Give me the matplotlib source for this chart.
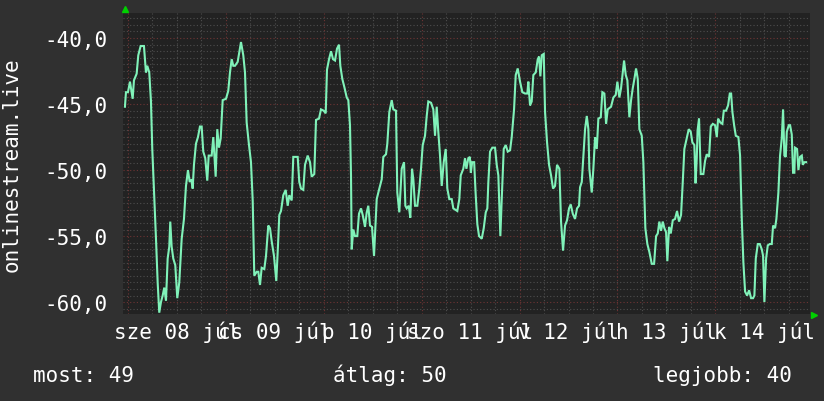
#!/usr/bin/env python3
"""
Weekly signal graph for onlinestream.live, rrdtool look.
"""

import matplotlib
matplotlib.use('Agg')
import matplotlib.pyplot as plt
import matplotlib.transforms as mtransforms
import numpy as np

plt.rcParams.update({
    'font.family': ['DejaVu Sans Mono'],
    'font.size': 15,
})

# Data: hours since 2020-07-08 00:00 and signal value
hours = [
    -0.74, -0.49, 0.00, 0.49, 1.15, 1.47, 2.13, 2.53, 3.11, 3.92, 4.41, 4.73, 5.22, 5.64,
    5.96, 6.37, 6.87, 7.28, 7.67, 8.09, 8.51, 8.90, 9.32, 9.73, 10.13, 10.37, 10.71, 11.11,
    11.60, 12.09, 12.58, 13.17, 13.73, 14.22, 14.71, 15.13, 15.62, 15.86, 16.18, 16.67, 17.16,
    17.65, 18.07, 18.46, 18.95, 19.44, 19.79, 20.52, 20.92, 21.50, 21.90, 22.31, 22.73, 23.22,
    24.03, 24.59, 25.01, 25.43, 25.82, 26.24, 26.90, 27.71, 28.27, 28.69, 29.10, 29.67, 30.16,
    30.58, 30.97, 31.56, 31.95, 32.37, 32.78, 33.42, 33.84, 34.40, 34.82, 35.24, 35.80, 36.36,
    36.78, 37.10, 37.52, 38.08, 38.67, 39.16, 39.55, 40.14, 40.53, 41.61, 42.00, 42.42, 42.98,
    43.40, 44.06, 44.63, 45.04, 45.68, 46.10, 46.83, 47.32, 47.98, 48.48, 48.79, 49.29, 49.78,
    50.27, 50.76, 51.25, 51.74, 52.06, 52.55, 53.04, 53.63, 54.02, 54.43, 54.68, 54.85, 55.24,
    55.66, 56.22, 56.64, 57.13, 57.55, 58.11, 58.53, 58.92, 59.34, 59.83, 60.32, 60.64, 60.98,
    61.62, 62.21, 62.60, 63.26, 63.58, 64.07, 64.66, 65.05, 65.71, 66.03, 66.52, 67.11, 67.68,
    68.00, 68.34, 68.83, 69.22, 69.64, 69.96, 70.37, 70.94, 71.43, 71.84, 72.26, 72.82, 73.24,
    73.63, 74.30, 74.86, 75.28, 75.69, 76.08, 76.50, 76.92, 77.41, 77.90, 78.29, 78.78, 79.37,
    79.76, 80.74, 81.23, 81.58, 82.21, 82.63, 82.97, 83.44, 83.82, 84.06, 84.38, 84.87, 85.22,
    85.65, 86.07, 86.73, 87.22, 87.71, 88.10, 88.35, 88.76, 89.32, 89.99, 90.40, 90.80, 91.29,
    91.63, 92.12, 92.61, 93.10, 93.67, 94.08, 94.65, 95.06, 95.55, 96.12, 96.68, 97.34, 97.91,
    98.15, 98.57, 98.98, 99.38, 99.97, 100.46, 100.78, 101.10, 101.44, 101.93, 102.25, 102.74,
    103.23, 103.72, 104.21, 104.70, 105.19, 105.76, 106.17, 106.66, 107.15, 107.64, 108.13,
    108.55, 109.04, 109.60, 110.09, 110.58, 110.83, 111.25, 111.64, 112.06, 112.48, 112.87,
    113.11, 113.70, 114.09, 114.51, 114.93, 115.32, 115.91, 116.30, 116.79, 117.21, 117.62,
    118.43, 119.00, 119.58, 119.98, 120.47, 120.88, 121.30, 121.62, 122.03, 122.43, 122.92,
    123.34, 123.75, 124.15, 124.56, 124.98, 125.37, 125.96, 126.35, 126.84, 127.33, 127.82,
    128.41, 128.98, 129.47, 129.88, 130.27, 130.69, 131.10, 131.50, 131.92, 132.23, 132.65,
    133.07, 133.56, 134.12, 134.61, 135.10, 135.59, 136.01, 136.40, 136.99, 137.48, 137.97,
    138.36, 138.85, 139.15, 139.44, 139.64, 140.00, 140.42, 141.06, 141.48, 141.89, 142.46,
    142.88, 143.37, 143.93, 144.35, 144.67, 145.23, 145.72, 146.07, 146.63, 147.12, 147.54,
    147.86, 148.18, 148.60, 149.01, 149.65, 150.06, 150.48, 150.87, 151.29, 151.78, 152.27,
    152.76, 153.25, 153.57, 153.91, 154.40, 154.89, 155.38, 155.70, 156.02, 156.44, 156.85,
    157.34, 157.83, 158.15, 158.64, 158.96, 159.45, 159.86, 160.28, 160.60, 160.92, 161.26,
    161.51, 162.00, 162.32, 162.73, 163.05, 163.37, 163.54, 164.03, 164.36, 164.77, 165.19,
    165.43, 165.83, 166.25,
]
signal = [
    -45.2, -44.1, -44.1, -43.3, -44.6, -43.2, -42.7, -41.3, -40.6, -40.6, -42.6, -42.1, -42.6, -44.8,
    -48.4, -51.4, -55.2, -58.5, -60.8, -60.0, -59.5, -58.9, -59.9, -56.7, -55.8, -53.9, -55.8, -56.7,
    -57.2, -59.7, -58.5, -55.2, -53.7, -51.2, -50.0, -50.9, -50.7, -51.4, -49.6, -48.0, -47.5,
    -46.7, -46.7, -48.6, -49.1, -50.8, -48.9, -48.9, -47.5, -50.5, -46.9, -48.3, -47.6, -44.7,
    -44.6, -44.0, -42.6, -41.6, -42.1, -42.1, -41.8, -40.3, -41.3, -42.6, -46.4, -48.1, -49.4,
    -52.3, -58.0, -57.7, -57.7, -58.7, -57.4, -57.5, -56.5, -54.2, -54.4, -55.4, -56.5, -58.4,
    -55.7, -53.4, -53.1, -51.9, -51.5, -52.7, -51.9, -52.3, -49.0, -49.0, -50.9, -51.4, -51.5,
    -49.6, -48.9, -49.4, -50.5, -50.3, -46.2, -46.1, -45.4, -45.5, -45.7, -42.4, -41.6, -41.0,
    -41.6, -41.7, -40.8, -40.5, -42.1, -43.1, -43.7, -44.5, -44.7, -46.6, -50.4, -56.0, -54.5,
    -55.0, -55.0, -53.3, -52.9, -53.4, -54.3, -53.2, -52.7, -54.2, -54.3, -56.5, -54.4, -52.2,
    -51.4, -50.7, -49.0, -48.8, -48.0, -45.6, -44.7, -45.4, -45.5, -51.7, -53.2, -49.9, -49.4,
    -52.7, -52.9, -52.7, -53.6, -49.9, -50.7, -52.7, -52.7, -51.4, -49.9, -48.1, -47.4, -45.9,
    -44.8, -44.9, -45.4, -47.4, -45.2, -47.1, -48.9, -51.2, -49.4, -48.4, -51.4, -52.2, -52.2,
    -52.9, -53.1, -52.2, -50.4, -49.9, -49.1, -49.9, -49.1, -49.0, -50.2, -49.4, -49.4, -51.7,
    -54.1, -55.0, -55.2, -54.4, -53.2, -52.9, -50.9, -48.6, -48.3, -48.3, -49.6, -50.4, -55.0,
    -52.2, -48.4, -48.1, -48.6, -48.5, -47.5, -45.4, -42.8, -42.3, -43.3, -44.1, -44.2, -44.2,
    -43.3, -45.1, -44.8, -42.8, -42.6, -41.6, -41.4, -42.9, -41.3, -41.2, -45.6, -47.9,
    -49.6, -50.4, -51.4, -51.2, -49.6, -49.9, -53.9, -56.1, -54.2, -53.8, -52.9,
    -52.6, -53.3, -53.7, -52.9, -52.7, -51.3, -50.9, -49.0, -46.9, -45.9, -46.9,
    -49.9, -51.7, -49.9, -47.5, -48.4, -46.1, -46.0, -44.1, -44.2, -46.5, -45.4,
    -45.2, -44.5, -44.3, -43.3, -44.5, -43.8, -42.6, -41.7, -42.8, -43.2, -46.0,
    -44.7, -43.8, -43.1, -42.3, -43.1, -46.9, -47.4, -49.4, -54.4, -55.6, -56.2,
    -57.1, -57.1, -55.0, -54.8, -53.9, -54.6, -53.9, -54.4, -54.7, -56.9, -54.3,
    -54.8, -53.8, -53.7, -53.1, -53.9, -53.4, -50.9, -48.4, -47.6, -46.9, -47.1,
    -47.9, -48.1, -51.0, -49.1, -47.0, -46.1, -50.3, -50.3, -49.3, -48.8, -49.0,
    -46.7, -46.5, -46.6, -47.5, -46.1, -46.4, -46.5, -45.5, -45.5, -45.1, -44.2,
    -44.2, -45.6, -46.6, -47.4, -47.5, -48.9, -53.7, -57.0, -59.2, -59.5, -59.1,
    -59.7, -59.7, -59.5, -56.7, -55.6, -55.6, -56.0, -56.5, -60.0, -56.7, -55.7,
    -55.6, -55.6, -54.2, -54.4, -53.7, -51.7, -48.9, -47.6, -45.4, -48.9, -49.0,
    -47.1, -46.6, -46.6, -47.3, -50.2, -50.2, -48.3, -48.4, -50.0, -49.0, -48.9,
    -49.6, -49.4, -49.4,
]

# Hungarian short weekday names as rrdtool prints them
day_labels = ['sze 08 júl', 'cs 09 júl', 'p 10 júl', 'szo 11 júl',
              'v 12 júl', 'h 13 júl', 'k 14 júl']
y_ticks = [-60, -55, -50, -45, -40]
legend_items = ['most: 49', 'átlag: 50', 'legjobb: 40']

BG = '#303030'
CANVAS = '#222222'
LINE = '#80f2b9'
MINOR = '#4e4e4e'
MAJOR = '#6e3434'

fig = plt.figure(figsize=(8.24, 4.02), dpi=100, facecolor=BG)
ax = fig.add_axes([0.1496, 0.2164, 0.8334, 0.7488])
ax.set_facecolor(CANVAS)

ax.set_xlim(-1.15, 167.2)
ax.set_ylim(-60.9, -38.1)

# rrdtool style dotted grid
dots = (0, (1, 2))
for v in np.arange(-60.5, -38, 0.5):
    is_major = abs(v % 5) < 1e-9
    ax.axhline(v, color=MAJOR if is_major else MINOR, lw=0.8, ls=dots, zorder=1)
for h in np.arange(0, 168, 6):
    ax.axvline(h, color=MAJOR if h % 24 == 0 else MINOR, lw=0.8, ls=dots, zorder=1)

ax.plot(hours, signal, color=LINE, lw=1.5, zorder=3, solid_joinstyle='miter')

for s in ax.spines.values():
    s.set_visible(False)

ax.set_yticks(y_ticks)
ax.set_yticklabels([f'{t:.1f}'.replace('.', ',') for t in y_ticks], color='white')
ax.tick_params(axis='y', length=0, pad=11)
ax.set_xticks([])

# day labels centred at noon (they overlap, as in rrdtool)
trans = mtransforms.blended_transform_factory(ax.transData, fig.transFigure)
for i, lab in enumerate(day_labels):
    ax.text(24 * i + 12, 1 - 339.5 / 402, lab, transform=trans, ha='center',
            va='baseline', color='white', fontsize=15, clip_on=False)

# axis arrows
ax.plot([0.0025], [1.013], marker='^', color='#00d000', ms=5, transform=ax.transAxes,
        clip_on=False, zorder=5)
ax.plot([1.006], [-0.003], marker='>', color='#00d000', ms=5, transform=ax.transAxes,
        clip_on=False, zorder=5)

fig.text(12 / 824, 0.591, 'onlinestream.live', rotation=90, ha='center', va='center',
         color='white', fontsize=15)

fig.text(33 / 824, 1 - 382 / 402, legend_items[0], ha='left', va='baseline', color='white')
fig.text(333 / 824, 1 - 382 / 402, legend_items[1], ha='left', va='baseline', color='white')
fig.text(792 / 824, 1 - 382 / 402, legend_items[2], ha='right', va='baseline', color='white')

fig.savefig('out.png', dpi=100, facecolor=BG)
